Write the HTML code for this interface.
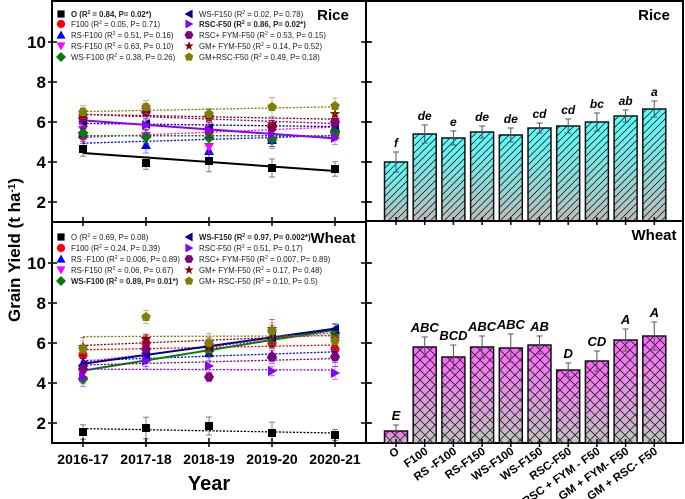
<!DOCTYPE html>
<html><head><meta charset="utf-8"><style>
body{margin:0;background:#fff}
svg{display:block;font-family:"Liberation Sans",Arial,sans-serif}
</style></head><body>
<svg id="c" width="685" height="499" viewBox="0 0 685 499">
<defs>
<linearGradient id="gc" x1="0" y1="0" x2="0" y2="1"><stop offset="0" stop-color="#55ffff"/><stop offset="1" stop-color="#bdbdbd"/></linearGradient>
<linearGradient id="gm" x1="0" y1="0" x2="0" y2="1"><stop offset="0" stop-color="#ff66ff"/><stop offset="1" stop-color="#c4c4c4"/></linearGradient>
<pattern id="hd" width="7" height="7" patternUnits="userSpaceOnUse"><path d="M0,7 L7,0 M-2,2 L2,-2 M5,9 L9,5" stroke="#222" stroke-width="0.8"/></pattern>
<pattern id="hx" width="10" height="10" patternUnits="userSpaceOnUse"><path d="M0,0 L10,10 M10,0 L0,10" stroke="#222" stroke-width="0.8"/></pattern>
</defs>
<g id="g"></g>
<text x="0" y="0" transform="translate(20,250) rotate(-90)" text-anchor="middle" font-size="17" font-weight="bold">Grain Yield (t ha<tspan baseline-shift="super" font-size="10">-1</tspan>)</text>
<text x="209" y="490" text-anchor="middle" font-size="20" font-weight="bold">Year</text>
</svg>
<script>
const years=["2016-17","2017-18","2018-19","2019-20","2020-21"];
const names=["O","F100","RS-F100","RS-F150","WS-F100","WS-F150","RSC-F50","RSC+FYM-F50","GM+FYM-F50","GM+RSC-F50"];
const riceO=[4.65,3.95,4.05,3.7,3.65];
const riceF100=[5.3,5.3,5.5,5.1,5.4];
const riceRSF100=[5.4,4.85,4.55,5.1,5.75];
const riceRSF150=[5.6,5.3,4.75,5.8,6.0];
const riceWSF100=[5.45,5.25,5.2,5.15,5.5];
const riceWSF150=[6.0,5.9,5.7,5.8,5.85];
const riceRSCF50=[6.1,5.85,5.6,5.4,5.2];
const riceRSCFYM=[6.2,6.5,6.3,5.75,6.0];
const riceGMFYM=[6.3,6.6,6.2,5.8,6.4];
const riceGMRSC=[6.5,6.75,6.4,6.75,6.8];
const wheatO=[1.55,1.75,1.85,1.5,1.4];
const wheatF100=[5.4,6.0,5.8,6.0,5.7];
const wheatRSF100=[5.0,5.3,5.5,5.4,5.5];
const wheatRSF150=[4.5,6.1,5.8,6.4,6.2];
const wheatWSF100=[4.2,5.7,5.6,6.2,6.5];
const wheatWSF150=[4.9,5.5,5.8,6.3,6.7];
const wheatRSCF50=[4.3,5.1,4.85,4.6,4.5];
const wheatRSCFYM=[4.7,5.7,4.3,5.3,5.3];
const wheatGMFYM=[5.8,6.2,5.8,6.7,6.2];
const wheatGMRSC=[5.7,7.3,6.0,6.6,6.1];
const riceErr=[0.4,0.35,0.6,0.5,0.4];
const wheatErr=[0.4,0.6,0.5,0.6,0.3];
const riceBars=[4.0,5.4,5.2,5.5,5.35,5.7,5.8,6.0,6.3,6.65];
const riceBarErr=[0.5,0.45,0.35,0.3,0.35,0.25,0.35,0.45,0.3,0.4];
const riceLetters=["f","de","e","de","de","cd","cd","bc","ab","a"];
const wheatBars=[1.6,5.8,5.3,5.8,5.75,5.9,4.65,5.1,6.15,6.35];
const wheatBarErr=[0.3,0.5,0.6,0.55,0.7,0.45,0.35,0.5,0.55,0.7];
const wheatLetters=["E","ABC","BCD","ABC","ABC","AB","D","CD","A","A"];
const barLabels=["O","F100","RS -F100","RS-F150","WS-F100","WS-F150","RSC-F50","RSC + FYM - F50","GM + FYM- F50","GM + RSC- F50"];
const yTicks=[2,4,6,8,10];
const riceLegend=[["O","0.84","0.02*",1],["F100","0.05","0.71",0],["RS-F100","0.51","0.16",0],["RS-F150","0.63","0.10",0],["WS-F100 ","0.38","0.26",0],["WS-F150","0.02","0.78",0],["RSC-F50","0.86","0.02*",1],["RSC+ FYM-F50 ","0.53","0.15",0],["GM+ FYM-F50","0.14","0.52",0],["GM+RSC-F50","0.49","0.18",0]];
const wheatLegend=[["O","0.69","0.08",0],["F100","0.24","0.39",0],["RS -F100","0.006","0.89",0],["RS-F150","0.06","0.67",0],["WS-F100","0.89","0.01*",1],["WS-F150","0.97","0.002*",1],["RSC-F50","0.51","0.17",0],["RSC+ FYM-F50","0.007","0.89",0],["GM+ FYM-F50","0.17","0.48",0],["GM+ RSC-F50","0.10","0.5",0]];
const riceSeries=[riceO,riceF100,riceRSF100,riceRSF150,riceWSF100,riceWSF150,riceRSCF50,riceRSCFYM,riceGMFYM,riceGMRSC];
const wheatSeries=[wheatO,wheatF100,wheatRSF100,wheatRSF150,wheatWSF100,wheatWSF150,wheatRSCF50,wheatRSCFYM,wheatGMFYM,wheatGMRSC];
const colors=["#000","#ff0000","#0000ff","#ff00ff","#008000","#00008b","#8a00ff","#800080","#8b0000","#808000"];
const shapes=["sq","ci","tu","td","di","tl","tr","hx","st","pe"];
const riceSig=[1,0,0,0,0,0,1,0,0,0];
const wheatSig=[0,0,0,0,1,1,0,0,0,0];

const NS="http://www.w3.org/2000/svg";
const G=document.getElementById("g");
function el(t,a,p){const e=document.createElementNS(NS,t);for(const k in a)e.setAttribute(k,a[k]);(p||G).appendChild(e);return e;}
const xYear=i=>83+63*i;
const yRice=v=>242-20*v;
const yWheat=v=>463-20*v;
const xBar=i=>396+28.7*i;

function marker(s,x,y,c,par,sc){
  sc=sc||1;
  let r=5*sc,pts;
  if(s==="sq")return el("rect",{x:x-4*sc,y:y-4*sc,width:8*sc,height:8*sc,fill:c},par);
  if(s==="ci")return el("circle",{cx:x,cy:y,r:4.6*sc,fill:c},par);
  const poly=a=>el("polygon",{points:a.map(p=>p.join(",")).join(" "),fill:c},par);
  if(s==="tu")return poly([[x,y-r],[x+r,y+r*0.8],[x-r,y+r*0.8]]);
  if(s==="td")return poly([[x,y+r],[x+r,y-r*0.8],[x-r,y-r*0.8]]);
  if(s==="tl")return poly([[x-r,y],[x+r*0.8,y-r],[x+r*0.8,y+r]]);
  if(s==="tr")return poly([[x+r,y],[x-r*0.8,y-r],[x-r*0.8,y+r]]);
  if(s==="di")return poly([[x,y-r-0.5],[x+r+0.5,y],[x,y+r+0.5],[x-r-0.5,y]]);
  pts=[];
  if(s==="hx"){for(let k=0;k<6;k++){const a=Math.PI/3*k;pts.push([x+r*Math.cos(a),y+r*Math.sin(a)]);}return poly(pts);}
  if(s==="pe"){for(let k=0;k<5;k++){const a=-Math.PI/2+2*Math.PI/5*k;pts.push([x+r*Math.cos(a),y+r*Math.sin(a)]);}return poly(pts);}
  if(s==="st"){for(let k=0;k<10;k++){const a=-Math.PI/2+Math.PI/5*k,rr=k%2?r*0.45:r*1.1;pts.push([x+rr*Math.cos(a),y+rr*Math.sin(a)]);}return poly(pts);}
}
function fit(v){const n=v.length;let sx=0,sy=0,sxy=0,sxx=0;v.forEach((y,i)=>{sx+=i;sy+=y;sxy+=i*y;sxx+=i*i;});const b=(n*sxy-sx*sy)/(n*sxx-sx*sx);return [ (sy-b*sx)/n, b];}

function linePanel(top,bottom,yf,series,errs,sig,legend,title,rows,key){
  const grp=el("g",{});
  
  
  el("rect",{x:52,y:top,width:314,height:bottom-top,fill:"none",stroke:"#000","stroke-width":2},grp);
  yTicks.forEach(t=>{const y=yf(t);
    el("line",{x1:48,x2:57,y1:y,y2:y,stroke:"#000","stroke-width":1.5},grp);
    el("line",{x1:361,x2:372,y1:y,y2:y,stroke:"#000","stroke-width":1.5},grp);
    const tx=el("text",{x:46,y:y+6,"text-anchor":"end","font-size":17,"font-weight":"bold"},grp);tx.textContent=t;
    
    
  });
  years.forEach((yr,i)=>{el("line",{x1:xYear(i),x2:xYear(i),y1:bottom-5,y2:bottom+4,stroke:"#000","stroke-width":1.5},grp);});
  series.forEach((v,s)=>{
    const sg=el("g",{},grp);
    
    
    const [a,b]=fit(v);
    el("line",{x1:xYear(0),x2:xYear(4),y1:yf(a),y2:yf(a+4*b),stroke:colors[s],"stroke-width":sig[s]?2:1.3,"stroke-dasharray":sig[s]?"":"2,1.5"},sg);
    v.forEach((val,i)=>{const e=errs[(i+s)%5]*(s===0?0.9:0.8);
      el("line",{x1:xYear(i),x2:xYear(i),y1:yf(val-e),y2:yf(val+e),stroke:colors[s],"stroke-width":0.8,opacity:0.6},sg);
      el("line",{x1:xYear(i)-3,x2:xYear(i)+3,y1:yf(val+e),y2:yf(val+e),stroke:colors[s],"stroke-width":0.8,opacity:0.6},sg);
      el("line",{x1:xYear(i)-3,x2:xYear(i)+3,y1:yf(val-e),y2:yf(val-e),stroke:colors[s],"stroke-width":0.8,opacity:0.6},sg);
      const m=marker(shapes[s],xYear(i),yf(val),colors[s],sg,1);
      
      
    });
  });
  legend.forEach((L,k)=>{
    const col=k<5?0:1,row=k%5;
    const mx=col?189:61,ty=rows[row];
    marker(shapes[k],mx,ty,colors[k],grp,0.9);
    const tx=el("text",{x:mx+10,y:ty+3,"font-size":7.8,"font-weight":L[3]?"bold":"normal",fill:"#222"},grp);
    
    
    tx.appendChild(document.createTextNode(L[0]+" (R"));
    const sp=el("tspan",{"baseline-shift":"super","font-size":5},tx);sp.textContent="2";
    tx.appendChild(document.createTextNode(" = "+L[1]+", P= "+L[2]+")"));
  });
  const t=el("text",{x:333,y:rows[0]+6,"text-anchor":"middle","font-size":15,"font-weight":"bold"},grp);t.textContent=title;
  
  
}
linePanel(1,222,yRice,riceSeries,riceErr,riceSig,riceLegend,"Rice",[14,24,35,46,57],"rice");
linePanel(222,443,yWheat,wheatSeries,wheatErr,wheatSig,wheatLegend,"Wheat",[237,248,259,270,281],"wheat");
years.forEach((yr,i)=>{const t=el("text",{x:xYear(i),y:464,"text-anchor":"middle","font-size":14,"font-weight":"bold"});t.textContent=yr;
  
  });

function barPanel(top,bottom,yf,vals,errs,letters,grad,hatch,title,key,italicCaps){
  const grp=el("g",{});
  
  
  el("rect",{x:366,y:top,width:317,height:bottom-top,fill:"none",stroke:"#000","stroke-width":2},grp);
  yTicks.forEach(t=>el("line",{x1:366,x2:371,y1:yf(t),y2:yf(t),stroke:"#000","stroke-width":1.5},grp));
  vals.forEach((v,i)=>{
    const x=xBar(i)-11.5,y=yf(v),h=bottom-y;
    const r1=el("rect",{x:x,y:y,width:23,height:h,fill:"url(#"+grad+")"},grp);
    
    
    el("rect",{x:x,y:y,width:23,height:h,fill:"url(#"+hatch+")",stroke:"#111","stroke-width":1.5},grp);
    const e=errs[i];
    el("line",{x1:xBar(i),x2:xBar(i),y1:yf(v-e),y2:yf(v+e),stroke:"#555","stroke-width":1},grp);
    el("line",{x1:xBar(i)-3,x2:xBar(i)+3,y1:yf(v+e),y2:yf(v+e),stroke:"#555","stroke-width":1},grp);
    el("line",{x1:xBar(i)-3,x2:xBar(i)+3,y1:yf(v-e),y2:yf(v-e),stroke:"#555","stroke-width":1},grp);
    el("line",{x1:xBar(i),x2:xBar(i),y1:bottom-4,y2:bottom+4,stroke:"#000","stroke-width":1.5},grp);
    const lt=el("text",{x:xBar(i),y:yf(v+e)-5,"text-anchor":"middle","font-size":italicCaps?13:12,"font-weight":"bold","font-style":"italic"},grp);
    lt.textContent=letters[i];
    
    
  });
  const t=el("text",{x:654,y:top+19,"text-anchor":"middle","font-size":15,"font-weight":"bold"},grp);t.textContent=title;
  
  
}
barPanel(1,221,yRice,riceBars,riceBarErr,riceLetters,"gc","hd","Rice","rice",false);
barPanel(221,443,yWheat,wheatBars,wheatBarErr,wheatLetters,"gm","hx","Wheat","wheat",true);
barLabels.forEach((l,i)=>{
  const t=el("text",{x:0,y:0,"text-anchor":"end","font-size":11.5,"font-weight":"bold",transform:"translate("+(xBar(i)+4)+",453) rotate(-35)"});
  t.textContent=l;
  
  
});
</script>
</body></html>
